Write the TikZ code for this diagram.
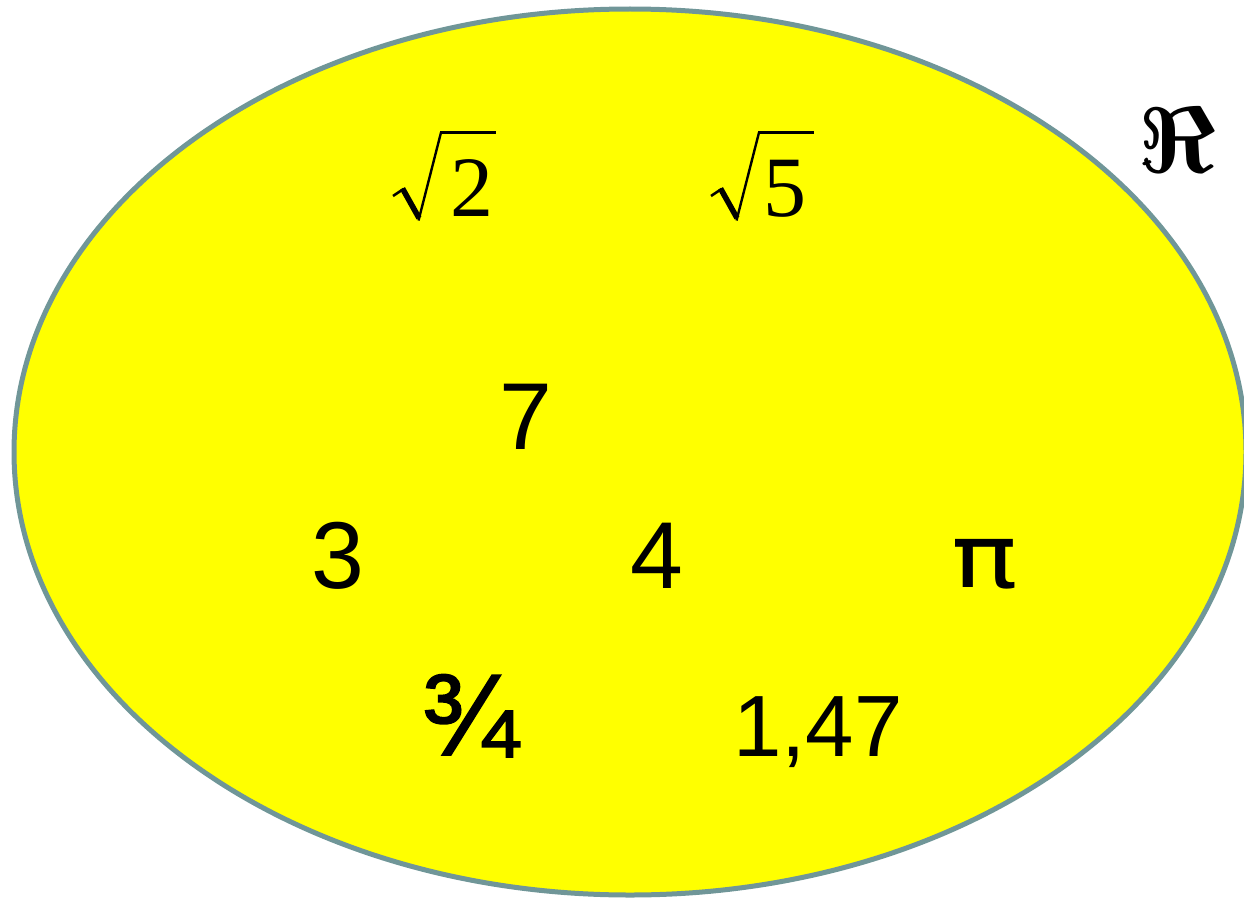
\documentclass[tikz,border=0pt]{standalone}
\usepackage{fontspec}
\setmainfont{Liberation Sans}
\newfontfamily\serif{Liberation Serif}
\newfontfamily\dejavu{DejaVu Sans}
\newfontfamily\heavysans[FakeBold=1.6]{Liberation Sans}
\usepackage{graphicx}
\definecolor{edge}{RGB}{112,150,152}
\definecolor{fillyellow}{RGB}{255,255,0}
\tikzset{
  radical/.pic={
    \draw[line width=2.6,line cap=butt] (0,0) -- (10.5,-7);
    \draw[line width=5.6,line cap=butt] (9.5,-7.5) -- (26,22);
    \draw[line width=2.4,line cap=butt] (25.5,24.5) -- (48,-63.5);
    \draw[line width=3.3,line cap=butt] (47.2,-63.5) -- (102.5,-63.5);
  }}
\begin{document}
\begin{tikzpicture}[x=1pt,y=-1pt,
  num/.style={anchor=base,inner sep=0pt,font=\fontsize{95}{96}\selectfont},
  small/.style={anchor=base,inner sep=0pt,font=\fontsize{87}{90}\selectfont},
  rad/.style={anchor=base,inner sep=0pt,font=\serif\fontsize{86}{90}\selectfont}]
\useasboundingbox (0,0) rectangle (1244,899);
\draw[fill=fillyellow,draw=edge,line width=5] (630,452) ellipse [x radius=616,y radius=443];
\pic at (393,196) {radical};
\node[rad] (r2) at (472,216) {2};
\pic at (711,196) {radical};
\node[rad] (r5) at (785,216) {5};
\node[num] (n7) at (526,449) {7};
\node[num] (n3) at (338,588) {3};
\node[num] (n4) at (657,588) {4};
\node[anchor=base,inner sep=0pt,font=\dejavu\fontsize{80}{90}\selectfont] (pi) at (985,587) {\scalebox{1.38}[1.1]{π}};
\node[anchor=base,inner sep=0pt,font=\heavysans\fontsize{116}{120}\selectfont] (frac) at (470,755) {¾};
\node[small] (dec) at (818,756) {1,47};
\node[anchor=center,inner sep=0pt] (R) at (1177,140) {\scalebox{9.3}{\boldmath$\Re$}};
\end{tikzpicture}
\end{document}
